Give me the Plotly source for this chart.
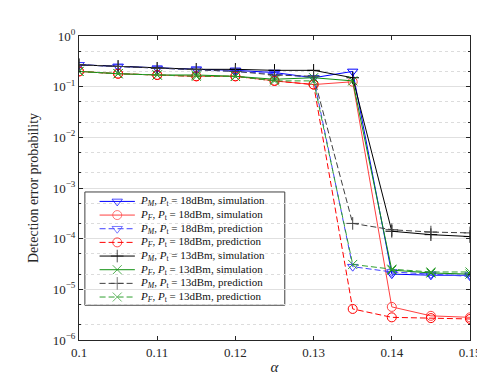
import plotly.graph_objects as go

# alpha values
alpha = [0.1, 0.105, 0.11, 0.115, 0.12, 0.125, 0.13, 0.135, 0.14, 0.145, 0.15]

# 18 dBm
pm18_sim = [0.27, 0.25, 0.23, 0.22, 0.21, 0.19, 0.15, 0.20, 2.0e-5, 1.9e-5, 1.9e-5]
pf18_sim = [0.20, 0.18, 0.17, 0.16, 0.16, 0.13, 0.11, 0.125, 4.5e-6, 3.0e-6, 2.8e-6]
pm18_pred = [0.27, 0.25, 0.23, 0.22, 0.20, 0.18, 0.15, 2.8e-5, 2.2e-5, 2.0e-5, 1.8e-5]
pf18_pred = [0.20, 0.18, 0.17, 0.16, 0.16, 0.13, 0.11, 4.1e-6, 2.8e-6, 2.7e-6, 2.6e-6]

# 13 dBm
pm13_sim = [0.27, 0.25, 0.23, 0.22, 0.22, 0.21, 0.21, 0.15, 1.4e-4, 1.2e-4, 1.1e-4]
pf13_sim = [0.20, 0.18, 0.17, 0.17, 0.16, 0.14, 0.15, 0.13, 2.4e-5, 2.1e-5, 2.0e-5]
pm13_pred = [0.27, 0.25, 0.23, 0.22, 0.20, 0.17, 0.16, 2.0e-4, 1.5e-4, 1.35e-4, 1.3e-4]
pf13_pred = [0.20, 0.18, 0.17, 0.16, 0.16, 0.13, 0.13, 3.1e-5, 2.5e-5, 2.2e-5, 2.2e-5]

ytick_vals = [1e-6, 1e-5, 1e-4, 1e-3, 1e-2, 1e-1, 1]
ytick_text = ["10<sup>\u22126</sup>", "10<sup>\u22125</sup>", "10<sup>\u22124</sup>",
              "10<sup>\u22123</sup>", "10<sup>\u22122</sup>", "10<sup>\u22121</sup>",
              "10<sup>0</sup>"]
xtick_vals = [0.1, 0.11, 0.12, 0.13, 0.14, 0.15]
xtick_text = ["0.1", "0.11", "0.12", "0.13", "0.14", "0.15"]

PM = "<i>P</i><sub><i>M</i></sub>"
PF = "<i>P</i><sub><i>F</i></sub>"
PT = "<i>P</i><sub>t</sub>"

series = [
    (pm18_sim, PM + ", " + PT + " = 18dBm, simulation", "#0000ff", "solid", "triangle-down-open"),
    (pf18_sim, PF + ", " + PT + " = 18dBm, simulation", "#ff4040", "solid", "circle-open"),
    (pm18_pred, PM + ", " + PT + " = 18dBm, prediction", "#4040ff", "6px,3px", "triangle-down-open"),
    (pf18_pred, PF + ", " + PT + " = 18dBm, prediction", "#ff0000", "6px,3px", "circle-open"),
    (pm13_sim, PM + ", " + PT + " = 13dBm, simulation", "#000000", "solid", "cross-thin"),
    (pf13_sim, PF + ", " + PT + " = 13dBm, simulation", "#109010", "solid", "x-thin"),
    (pm13_pred, PM + ", " + PT + " = 13dBm, prediction", "#404040", "6px,3px", "cross-thin"),
    (pf13_pred, PF + ", " + PT + " = 13dBm, prediction", "#30a030", "6px,3px", "x-thin"),
]

# plot area in pixels (for placing the hand-made legend)
L, R, T, B = 71, 470, 28, 334
def px(x):
    return (x - L) / (R - L)
def py(y):
    return (B - y) / (B - T)

fig = go.Figure()
for ys, name, color, dash, symbol in series:
    fig.add_trace(go.Scatter(
        x=alpha, y=ys, name=name, mode="lines+markers", showlegend=False,
        line=dict(color=color, width=1, dash=dash),
        marker=dict(symbol=symbol, size=9, color=color, line=dict(color=color, width=1)),
    ))

# legend box (between grid and traces so it hides the grid)
fig.add_shape(type="rect", xref="paper", yref="paper",
              x0=px(77), x1=px(281), y0=py(299), y1=py(185),
              line=dict(color="#404040", width=1), fillcolor="white", layer="between")

font = "Liberation Serif, DejaVu Serif, serif"
row0, row_step = 194.5, 13.75
for i, (ys, name, color, dash, symbol) in enumerate(series):
    yy = py(row0 + i * row_step)
    fig.add_trace(go.Scatter(
        x=[px(92), px(110), px(128)], y=[yy, yy, yy], xaxis="x2", yaxis="y2",
        mode="lines+markers", showlegend=False, hoverinfo="skip",
        line=dict(color=color, width=1, dash=dash),
        marker=dict(symbol=symbol, size=[0, 9, 0], color=color, line=dict(color=color, width=1)),
    ))
    fig.add_annotation(text=name, xref="paper", yref="paper", x=px(131), y=yy,
                       xanchor="left", yanchor="middle", align="left", showarrow=False,
                       font=dict(family=font, size=11, color="#111111"))

fig.update_layout(
    width=485, height=376,
    margin=dict(l=L, r=485 - R, t=T, b=376 - B),
    paper_bgcolor="white", plot_bgcolor="white",
    font=dict(family=font, size=13, color="#262626"),
    showlegend=False,
    xaxis=dict(
        range=[0.1, 0.15], tickvals=xtick_vals, ticktext=xtick_text,
        ticks="inside", ticklen=4, tickcolor="#262626",
        showline=True, linecolor="#262626", linewidth=1, mirror="ticks",
        showgrid=False, zeroline=False, ticklabeloverflow="allow",
        title=dict(text="<i>\u03b1</i>", font=dict(size=15), standoff=2),
    ),
    yaxis=dict(
        type="log", range=[-6, 0], tickvals=ytick_vals, ticktext=ytick_text,
        ticks="inside", ticklen=4, tickcolor="#262626",
        showline=True, linecolor="#262626", linewidth=1, mirror="ticks",
        showgrid=True, gridcolor="#e0e0e0", gridwidth=1, zeroline=False,
        minor=dict(ticks="inside", ticklen=2, tickcolor="#262626",
                   showgrid=True, gridcolor="#dcdcdc", griddash="dot", gridwidth=1),
        title=dict(text="Detection error probability", font=dict(size=14), standoff=10),
    ),
    xaxis2=dict(overlaying="x", range=[0, 1], visible=False, fixedrange=True),
    yaxis2=dict(overlaying="y", range=[0, 1], visible=False, fixedrange=True),
)

fig.write_html("out.html")
